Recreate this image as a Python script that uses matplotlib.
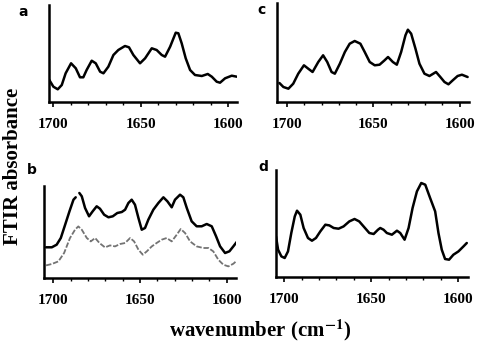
import numpy as np
import matplotlib
matplotlib.use("Agg")
import matplotlib.pyplot as plt
from matplotlib.ticker import MultipleLocator

plt.rcParams['mathtext.fontset'] = 'stix'

# spectra (wavenumber, absorbance in arbitrary units)
wn_a = [1702.7, 1699.8, 1697.3, 1695.0, 1692.8, 1689.7, 1687.0, 1684.6, 1682.7,
        1680.8, 1677.9, 1675.6, 1673.1, 1671.2, 1668.4, 1665.5, 1662.7, 1658.9,
        1656.6, 1654.1, 1650.3, 1647.4, 1643.6, 1640.8, 1637.9, 1636.0, 1633.1,
        1629.9, 1628.4, 1626.5, 1624.2, 1621.7, 1618.9, 1615.0, 1611.6, 1609.3,
        1606.5, 1604.6, 1601.7, 1597.9, 1595.0]
ab_a = [23.7, 15.3, 12.7, 17.0, 28.7, 38.7, 33.7, 24.7, 24.7,
        32.0, 41.3, 38.7, 30.3, 28.7, 35.3, 47.0, 52.0, 56.0,
        54.7, 47.0, 38.7, 43.7, 53.7, 52.0, 47.0, 45.3, 55.3,
        69.3, 68.7, 58.7, 43.7, 32.0, 27.0, 26.0, 28.0, 25.3,
        20.3, 19.3, 23.7, 26.3, 25.3]

wn_c = [1704.4, 1702.1, 1699.2, 1696.4, 1693.5, 1690.2, 1687.7, 1685.2, 1681.9,
        1679.1, 1676.7, 1674.2, 1672.3, 1669.4, 1666.5, 1663.7, 1660.8, 1657.5,
        1655.0, 1652.1, 1649.2, 1646.4, 1643.5, 1641.5, 1638.7, 1636.4, 1633.9,
        1631.4, 1630.0, 1628.1, 1625.6, 1623.3, 1620.4, 1617.5, 1613.7, 1611.2,
        1608.8, 1606.5, 1604.0, 1601.2, 1598.7, 1595.4]
ab_c = [19.0, 15.0, 13.3, 18.3, 28.3, 36.7, 33.3, 30.0, 40.0,
        46.7, 40.0, 30.0, 28.3, 38.3, 50.0, 58.3, 61.0, 58.3,
        50.0, 40.0, 36.7, 37.3, 41.7, 45.0, 40.0, 37.3, 50.0,
        66.7, 72.3, 68.3, 53.3, 38.3, 28.3, 26.0, 30.0, 25.0,
        20.0, 17.7, 21.7, 26.0, 27.3, 25.0]

# upper trace of b has a short break near 1686
wn_b = [1704.2, 1700.9, 1698.1, 1695.7, 1693.2, 1690.7, 1688.4, 1687.1, 1686.0,
        1685.0, 1683.6, 1681.7, 1679.4, 1677.3, 1675.0, 1673.1, 1670.7, 1668.2,
        1665.7, 1663.1, 1660.5, 1658.6, 1656.7, 1654.8, 1652.9, 1650.9, 1649.0,
        1647.1, 1645.2, 1642.3, 1639.4, 1636.5, 1634.2, 1631.7, 1629.8, 1626.9,
        1625.0, 1623.0, 1620.2, 1617.3, 1614.4, 1611.5, 1608.6, 1606.1, 1603.8,
        1600.9, 1598.4, 1596.1, 1594.2]
ab_b = [30.7, 30.7, 33.3, 40.0, 53.3, 66.7, 78.3, 80.7, np.nan,
        85.0, 81.7, 70.0, 61.7, 66.7, 71.7, 69.3, 63.3, 60.7,
        61.7, 65.0, 66.0, 68.3, 75.0, 78.3, 73.3, 60.0, 48.3,
        50.0, 58.3, 68.3, 75.0, 80.7, 76.7, 70.7, 78.3, 83.3,
        80.7, 70.0, 56.7, 51.7, 51.7, 54.0, 51.7, 41.7, 31.7,
        25.0, 26.7, 31.7, 36.0]

wn_b2 = [1704.2, 1700.9, 1697.1, 1693.8, 1690.4, 1687.5, 1685.6, 1683.6, 1680.7,
         1678.4, 1675.9, 1673.4, 1670.2, 1667.3, 1664.4, 1661.5, 1658.6, 1655.7,
         1653.4, 1650.9, 1648.4, 1646.1, 1643.2, 1640.4, 1637.5, 1634.6, 1631.7,
         1628.8, 1626.5, 1624.0, 1621.1, 1617.3, 1613.4, 1610.5, 1607.7, 1604.8,
         1601.9, 1599.0, 1596.1, 1594.2]
ab_b2 = [12.6, 14.0, 16.6, 25.0, 40.0, 48.3, 51.6, 48.3, 40.0,
         36.6, 40.0, 35.0, 30.6, 32.6, 31.6, 34.0, 35.0, 40.0,
         36.6, 28.3, 23.3, 26.6, 31.6, 35.0, 38.3, 40.0, 36.6,
         43.3, 49.0, 45.0, 36.6, 31.6, 30.0, 30.0, 26.6, 18.3,
         13.3, 11.6, 14.3, 17.3]

wn_d = [1704.8, 1703.6, 1701.7, 1699.8, 1697.9, 1696.0, 1694.0, 1692.7, 1690.8,
        1688.9, 1686.4, 1684.1, 1681.8, 1679.3, 1676.4, 1674.1, 1671.6, 1668.8,
        1665.9, 1662.6, 1659.6, 1656.9, 1654.4, 1651.1, 1648.6, 1646.1, 1644.8,
        1642.9, 1641.0, 1638.1, 1635.2, 1633.3, 1630.8, 1628.5, 1626.2, 1623.7,
        1621.2, 1618.9, 1616.1, 1613.2, 1611.3, 1609.4, 1607.5, 1605.2, 1602.7,
        1599.8, 1596.9, 1595.0]
ab_d = [40.6, 27.3, 20.6, 19.0, 25.6, 44.0, 60.6, 66.3, 62.3,
        49.0, 39.0, 36.3, 39.0, 45.6, 52.3, 51.6, 49.0, 48.3,
        50.6, 55.6, 58.0, 55.6, 50.6, 44.0, 43.0, 47.3, 49.0,
        47.3, 44.0, 42.3, 46.3, 44.0, 37.3, 49.0, 69.0, 85.6,
        94.0, 92.3, 79.0, 65.6, 44.0, 27.3, 18.0, 17.3, 22.3,
        25.6, 30.6, 34.0]

serif = ['Liberation Serif', 'DejaVu Serif']

fig = plt.figure(figsize=(4.8, 3.49), dpi=100)

# axes boxes in pixels: left, top, right, bottom
boxes = {
    'a': (49, 5, 237, 102),
    'c': (277, 3, 469, 102),
    'b': (44, 186, 236, 278),
    'd': (276, 170, 468, 277),
}
xlims = {'a': (1702.3, 1594.9), 'c': (1705.8, 1594.6),
         'b': (1705.4, 1594.6), 'd': (1704.8, 1594.3)}
ylims = {'a': (0, 97), 'c': (0, 99), 'b': (0, 92), 'd': (0, 107)}
label_pos = {'a': (23, 12), 'b': (32, 170), 'c': (262, 10), 'd': (263, 167)}

axs = {}
for key, (l, t, r, b) in boxes.items():
    ax = fig.add_axes([l / 480, 1 - b / 349, (r - l) / 480, (b - t) / 349])
    for s in ['top', 'right']:
        ax.spines[s].set_visible(False)
    ax.spines['left'].set_linewidth(1.8)
    ax.spines['bottom'].set_linewidth(1.8)
    ax.set_xlim(*xlims[key])
    ax.set_ylim(*ylims[key])
    ax.set_yticks([])
    ax.set_xticks([1700, 1650, 1600])
    ax.xaxis.set_minor_locator(MultipleLocator(10))
    ax.tick_params(axis='x', which='major', length=3.5, width=1.2, pad=8)
    ax.tick_params(axis='x', which='minor', length=2.5, width=1.0)
    for lab in ax.get_xticklabels():
        lab.set_fontfamily(serif)
        lab.set_fontweight('bold')
        lab.set_fontsize(11)
    lx, ly = label_pos[key]
    fig.text(lx / 480, 1 - ly / 349, key, fontsize=10, fontweight='bold',
             ha='center', va='center')
    axs[key] = ax

line_kw = dict(color='black', lw=1.8, solid_joinstyle='round', solid_capstyle='round')
axs['a'].plot(wn_a, ab_a, **line_kw)
axs['c'].plot(wn_c, ab_c, **line_kw)
axs['b'].plot(wn_b, ab_b, **line_kw)
axs['b'].plot(wn_b2, ab_b2, color='0.45', lw=1.3, ls=(0, (3, 1)))
axs['d'].plot(wn_d, ab_d, **line_kw)

fig.text(13 / 480, 1 - 166 / 349, 'FTIR absorbance', rotation=90, ha='center',
         va='center', family=serif, fontweight='bold', fontsize=15)
fig.text(260 / 480, 1 - 330 / 349, 'wavenumber (cm$^{\\mathbf{-1}}$)', ha='center',
         va='center', family=serif, fontweight='bold', fontsize=15)

fig.savefig('out.png', dpi=100)
